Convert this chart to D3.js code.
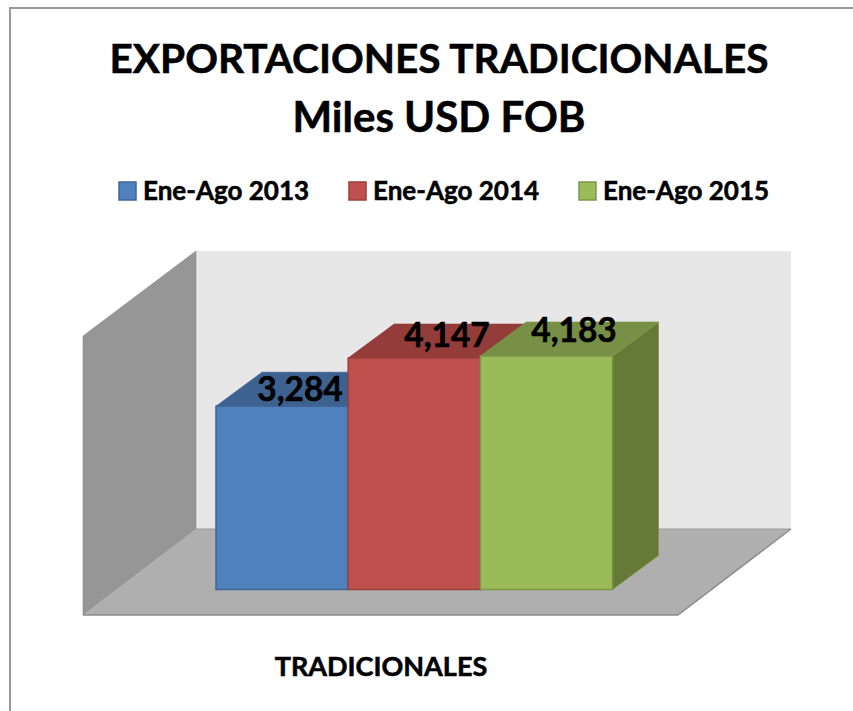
<!DOCTYPE html>
<html><head><meta charset="utf-8">
<script src="https://cdn.jsdelivr.net/npm/d3@7"></script>
<style>html,body{margin:0;padding:0;background:#fff}svg{display:block}text{font-family:Lato,"Open Sans",sans-serif;font-weight:700;fill:#000;stroke:#000;stroke-width:0.55px}</style>
</head><body><svg id="c" width="853" height="711"></svg>
<script>
const titleLines = ["EXPORTACIONES TRADICIONALES", "Miles USD FOB"];
const series = ["Ene-Ago 2013", "Ene-Ago 2014", "Ene-Ago 2015"];
const values = [3284, 4147, 4183];
const valueLabels = ["3,284", "4,147", "4,183"];
const category = "TRADICIONALES";
const fills = ["#4F81BD", "#C0504D", "#9BBB59"];
const strokes = ["#3E6797", "#9B3F3C", "#7D9748"];
const tops = ["#3E6290", "#933C39", "#789045"];
const sides = ["#334F73", "#7A302E", "#667A38"];

const svg = d3.select("#c");
const line = d3.line();
const W = 853, H = 711;
svg.append("path").attr("d", line([[10, H], [10, 8], [W, 8]])).attr("fill", "none").attr("stroke", "#999").attr("stroke-width", 2);

const x = d3.scaleBand().domain(series).range([216, 612.5]);
const y = d3.scaleLinear().domain([0, 5000]).range([589.5, 310.5]);
const dx = 46, dy = 34;          // depth of the bars
const frontGap = [113, 86];      // wall depth
const wallY = d3.scaleLinear().domain([0, 5000]).range([529, 251]);
const wallX0 = 196, wallX1 = 791;

// walls and floor
svg.append("rect").attr("x", wallX0).attr("y", wallY(5000)).attr("width", wallX1 - wallX0).attr("height", wallY(0) - wallY(5000)).attr("fill", "#E7E7E7");
svg.append("path").attr("d", line([[wallX0 - frontGap[0], wallY(5000) + 85], [wallX0, wallY(5000)], [wallX0, wallY(0)], [wallX0 - frontGap[0], wallY(0) + frontGap[1]]]) + "Z")
  .attr("fill", "#969696").attr("stroke", "#8a8a8a").attr("stroke-width", 0.6);
svg.append("path").attr("d", line([[wallX0, wallY(0)], [wallX1, wallY(0)], [wallX1 - frontGap[0], wallY(0) + frontGap[1]], [wallX0 - frontGap[0], wallY(0) + frontGap[1]]]) + "Z")
  .attr("fill", "#AFAFAF");
svg.append("path").attr("d", line([[wallX0, wallY(0)], [wallX1, wallY(0)]])).attr("stroke", "#999").attr("stroke-width", 1);
svg.append("path").attr("d", line([[wallX1, wallY(0)], [wallX1 - frontGap[0], wallY(0) + frontGap[1]], [wallX0 - frontGap[0], wallY(0) + frontGap[1]]]))
  .attr("fill", "none").attr("stroke", "#8c8c8c").attr("stroke-width", 1.5);

// bars
series.forEach((s, i) => {
  const g = svg.append("g");
  const x0 = x(s), x1 = x0 + x.bandwidth(), yt = y(values[i]), yb = y(0);
  g.append("path").attr("d", line([[x1, yt], [x1 + dx, yt - dy], [x1 + dx, yb - dy], [x1, yb]]) + "Z")
    .attr("fill", sides[i]).attr("stroke", strokes[i]).attr("stroke-width", 0.8);
  g.append("path").attr("d", line([[x0, yt], [x0 + dx, yt - dy], [x1 + dx, yt - dy], [x1, yt]]) + "Z")
    .attr("fill", tops[i]).attr("stroke", strokes[i]).attr("stroke-width", 0.8);
});
series.forEach((s, i) => {
  svg.append("rect").attr("x", x(s)).attr("y", y(values[i])).attr("width", x.bandwidth()).attr("height", y(0) - y(values[i]))
    .attr("fill", fills[i]).attr("stroke", strokes[i]).attr("stroke-width", 1.5);
});

// value labels
const labelDX = [300, 447, 574], labelDY = [389, 335, 330];
valueLabels.forEach((t, i) => {
  svg.append("text").attr("x", labelDX[i]).attr("y", labelDY[i]).attr("dy", "0.35em").attr("text-anchor", "middle").attr("font-size", 33.5).text(t);
});

// title
const titleX = 439;
svg.append("text").attr("x", titleX).attr("y", 73).attr("text-anchor", "middle").attr("font-size", 40.6).text(titleLines[0]);
svg.append("text").attr("x", titleX).attr("y", 132).attr("text-anchor", "middle").attr("font-size", 42).text(titleLines[1]);

// legend
const legendX = [119, 349, 579];
series.forEach((s, i) => {
  svg.append("rect").attr("x", legendX[i]).attr("y", 182).attr("width", 17).attr("height", 18).attr("fill", fills[i]).attr("stroke", strokes[i]).attr("stroke-width", 1.5);
  svg.append("text").attr("x", legendX[i] + 24).attr("y", 200).attr("font-size", 26).text(s);
});

// category label
svg.append("text").attr("x", 381).attr("y", 676).attr("text-anchor", "middle").attr("font-size", 27).text(category);
</script></body></html>
